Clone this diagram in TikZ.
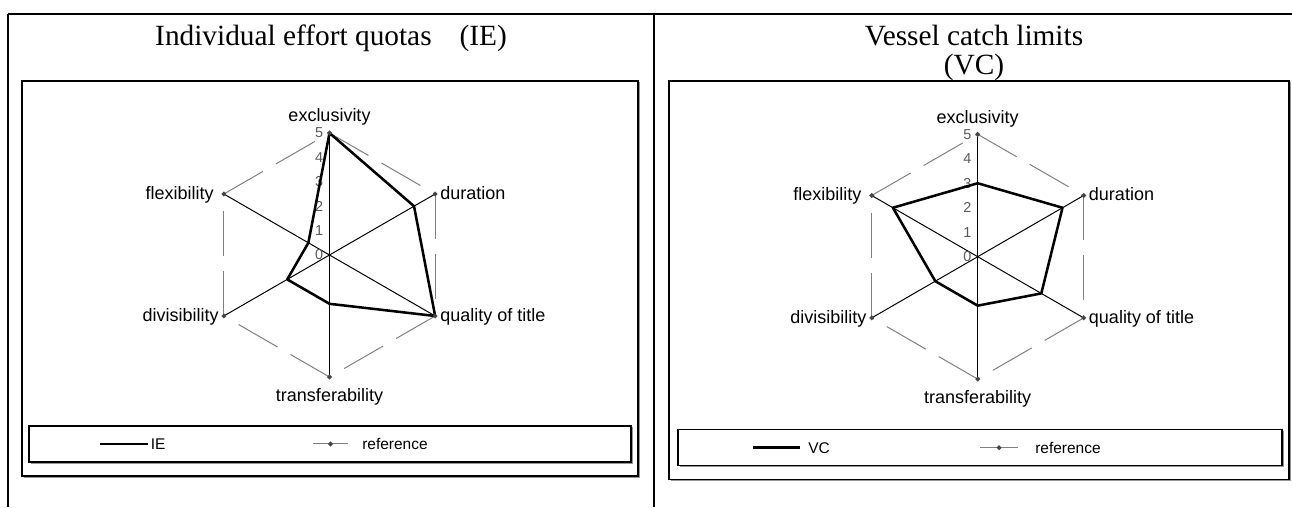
\documentclass[tikz,border=0pt]{standalone}
\usepackage{fontspec}
\setmainfont{Liberation Serif}
\setsansfont{Liberation Sans}
\usetikzlibrary{calc,shapes.geometric}
\definecolor{refgray}{RGB}{128,128,128}
\definecolor{markgray}{RGB}{70,70,70}
\definecolor{tickgray}{RGB}{89,89,89}
\definecolor{shadowgray}{RGB}{150,150,150}
\begin{document}
\begin{tikzpicture}[x=0.75pt,y=0.75pt,
  tableline/.style={draw=black,line width=1.4pt},
  framebox/.style={draw=black,line width=1pt},
  boxshadow/.style={draw=shadowgray,line width=1pt},
  spoke/.style={draw=black,line width=0.75pt},
  refline/.style={draw=refgray,line width=0.75pt,dash pattern=on 33.75pt off 11.25pt},
  dataline/.style={draw=black,line width=1.9pt,line join=round},
  refmark/.style={diamond,fill=markgray,inner sep=0pt,minimum width=4pt,minimum height=4pt},
  axislabel/.style={inner sep=0pt,font=\sffamily\fontsize{13.5}{16}\selectfont},
  ticklabel/.style={anchor=east,inner sep=0pt,text=tickgray,font=\sffamily\fontsize{10.8}{12}\selectfont},
  legendtext/.style={anchor=base west,inner sep=0pt,font=\sffamily\fontsize{11.6}{14}\selectfont},
  titletext/.style={anchor=base,inner sep=0pt,font=\fontsize{22}{26}\selectfont}]
\useasboundingbox (0,0) rectangle (1292,507);

% ---- table rules ----
\coordinate (TL) at (8,493.3);
\coordinate (TR) at (1292,493.3);
\coordinate (TM) at (654.3,493.3);
\coordinate (BL) at (8,0);
\coordinate (BM) at (654.3,0);
\draw[tableline] (TL) -- (TR);
\draw[tableline] (TL) -- (BL);
\draw[tableline] (TM) -- (BM);

% ---- titles ----
\node[titletext] (titleL) at (331,461) {Individual effort quotas\hspace{0.95em}(IE)};
\node[titletext] (titleR1) at (974,461) {Vessel catch limits};
\node[titletext] (titleR2) at (974,432) {(VC)};

% ---- chart frames with soft shadow ----
\draw[boxshadow] (639.5,424.5) -- (639.5,29.5) -- (23.5,29.5);
\draw[framebox] (22,426) rectangle (638,31);
\draw[boxshadow] (1290.5,424.5) -- (1290.5,26.2) -- (670.5,26.2);
\draw[framebox] (669,426) rectangle (1289,27.7);

% ---- legend frames ----
\draw[boxshadow] (632.5,79.5) -- (632.5,43.5) -- (30.5,43.5);
\draw[framebox] (29,81) rectangle (631,45);
\draw[boxshadow] (1283.5,75.8) -- (1283.5,40.2) -- (679.5,40.2);
\draw[framebox] (678,77.3) rectangle (1282,41.7);

% ---- left radar: IE ----
\coordinate (LC) at (329.5,252);
\foreach \k in {0,...,5}
  \coordinate (L\k) at ($(LC)+({90-60*\k}:122)$);
\foreach \k/\v in {0/5,1/4,2/5,3/2,4/2,5/1}
  \coordinate (LD\k) at ($(LC)+({90-60*\k}:{\v*24.4})$);
\draw[refline] (L0) -- (L1);
\draw[refline] (L1) -- (L2);
\draw[refline] (L2) -- (L3);
\draw[refline] (L3) -- (L4);
\draw[refline] (L4) -- (L5);
\draw[refline] (L5) -- (L0);
\draw[spoke] (L0) -- (L3);
\draw[spoke] (L1) -- (L4);
\draw[spoke] (L2) -- (L5);
\foreach \i in {0,...,5}
  \node[ticklabel] (Lt\i) at ($(LC)+(-6,{\i*24.4})$) {\i};
\draw[dataline] (LD0) -- (LD1) -- (LD2) -- (LD3) -- (LD4) -- (LD5) -- cycle;
\foreach \k in {0,...,5}
  \node[refmark] (Lm\k) at (L\k) {};
\node[axislabel,anchor=base] (La0) at ($(L0)+(0,11)$) {exclusivity};
\node[axislabel,anchor=base west] (La1) at ($(L1)+(5,-5.5)$) {duration};
\node[axislabel,anchor=base west] (La2) at ($(L2)+(5,-5.5)$) {quality of title};
\node[axislabel,anchor=base] (La3) at ($(L3)+(0,-24.5)$) {transferability};
\node[axislabel,anchor=base east] (La4) at ($(L4)+(-5,-5.5)$) {divisibility};
\node[axislabel,anchor=base east] (La5) at ($(L5)+(-10,-5.5)$) {flexibility};

% ---- right radar: VC ----
\coordinate (RC) at (977.7,250.3);
\foreach \k in {0,...,5}
  \coordinate (R\k) at ($(RC)+({90-60*\k}:122.4)$);
\foreach \k/\v in {0/3,1/4,2/3,3/2,4/2,5/4}
  \coordinate (RD\k) at ($(RC)+({90-60*\k}:{\v*24.48})$);
\draw[refline] (R0) -- (R1);
\draw[refline] (R1) -- (R2);
\draw[refline] (R2) -- (R3);
\draw[refline] (R3) -- (R4);
\draw[refline] (R4) -- (R5);
\draw[refline] (R5) -- (R0);
\draw[spoke] (R0) -- (R3);
\draw[spoke] (R1) -- (R4);
\draw[spoke] (R2) -- (R5);
\foreach \i in {0,...,5}
  \node[ticklabel] (Rt\i) at ($(RC)+(-6,{\i*24.48})$) {\i};
\draw[dataline] (RD0) -- (RD1) -- (RD2) -- (RD3) -- (RD4) -- (RD5) -- cycle;
\foreach \k in {0,...,5}
  \node[refmark] (Rm\k) at (R\k) {};
\node[axislabel,anchor=base] (Ra0) at ($(R0)+(0,11)$) {exclusivity};
\node[axislabel,anchor=base west] (Ra1) at ($(R1)+(5,-5.5)$) {duration};
\node[axislabel,anchor=base west] (Ra2) at ($(R2)+(5,-5.5)$) {quality of title};
\node[axislabel,anchor=base] (Ra3) at ($(R3)+(0,-24.5)$) {transferability};
\node[axislabel,anchor=base east] (Ra4) at ($(R4)+(-5,-5.5)$) {divisibility};
\node[axislabel,anchor=base east] (Ra5) at ($(R5)+(-10,-5.5)$) {flexibility};

% ---- left legend ----
\coordinate (LgA) at (100,63);
\coordinate (LgB) at (148,63);
\draw[dataline] (LgA) -- (LgB);
\node[legendtext] (LgT1) at (150.5,57) {IE};
\coordinate (LgC) at (313,63);
\coordinate (LgD) at (348,63);
\draw[draw=refgray,line width=0.75pt] (LgC) -- (LgD);
\node[refmark] (LgM) at ($(LgC)!0.5!(LgD)$) {};
\node[legendtext] (LgT2) at (362,57) {reference};

% ---- right legend ----
\coordinate (RgA) at (752.7,59.3);
\coordinate (RgB) at (800,59.3);
\draw[dataline] (RgA) -- (RgB);
\node[legendtext] (RgT1) at (808,54) {VC};
\coordinate (RgC) at (980,59.3);
\coordinate (RgD) at (1018,59.3);
\draw[draw=refgray,line width=0.75pt] (RgC) -- (RgD);
\node[refmark] (RgM) at ($(RgC)!0.5!(RgD)$) {};
\node[legendtext] (RgT2) at (1035,54) {reference};
\end{tikzpicture}
\end{document}
